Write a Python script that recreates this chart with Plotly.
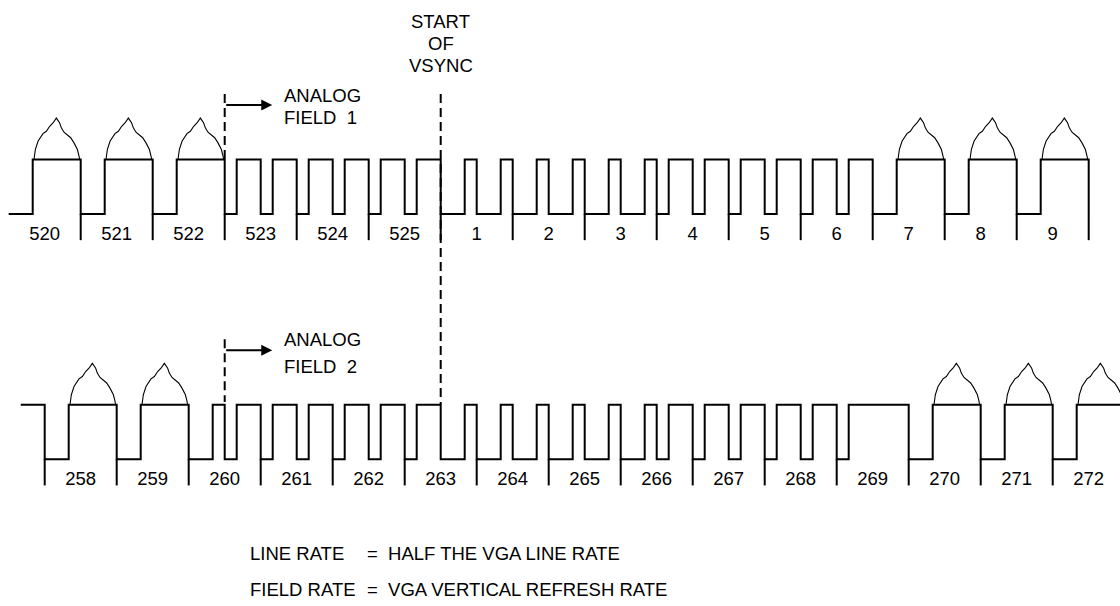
import plotly.graph_objects as go

# ---------------- data ----------------
# Field 1 (top row) line numbers and line types
top_lines = [520, 521, 522, 523, 524, 525, 1, 2, 3, 4, 5, 6, 7, 8, 9]
top_types = ["H", "H", "H", "E", "E", "E", "V", "V", "V", "E", "E", "E", "H", "H", "H"]

# Field 2 (bottom row) line numbers and line types
bottom_lines = [258, 259, 260, 261, 262, 263, 264, 265, 266, 267, 268, 269, 270, 271, 272]
bottom_types = ["H", "H", "HE", "E", "E", "EV", "V", "V", "VE", "E", "E", "EB", "H", "H", "H"]

# sync pulses in each line type: (start, width) as fractions of one line period
pulse_table = {
    "H":  [(0.0, 1 / 3)],                  # horizontal sync + video
    "E":  [(0.0, 1 / 6), (0.5, 1 / 6)],    # equalizing pulses
    "V":  [(0.0, 1 / 3), (0.5, 1 / 3)],    # serrated vertical sync
    "HE": [(0.0, 1 / 3), (0.5, 1 / 6)],
    "EV": [(0.0, 1 / 6), (0.5, 1 / 3)],
    "VE": [(0.0, 1 / 3), (0.5, 1 / 6)],
    "EB": [(0.0, 1 / 6)],
}
video_types = ["H"]

# video bump profile: (fraction of line, signal level; 1 = blank level)
bump_frac = [0.351, 0.37, 0.407, 0.476, 0.523, 0.569, 0.615, 0.662, 0.708, 0.731,
             0.768, 0.815, 0.861, 0.907, 0.954, 0.977, 0.986]
bump_level = [1.0, 1.18, 1.335, 1.475, 1.518, 1.609, 1.67, 1.76, 1.67, 1.58,
              1.50, 1.457, 1.40, 1.305, 1.183, 1.06, 1.0]

footer_left = ["LINE RATE", "FIELD RATE"]
footer_right = ["=  HALF THE VGA LINE RATE", "=  VGA VERTICAL REFRESH RATE"]

# ---------------- layout constants ----------------
ROW2 = -4.5          # vertical offset of the second row
ROW2_X = 0.5         # field 2 is shifted by half a line
TICK = 0.48
LABEL_Y = -0.39
FONT = dict(family="Liberation Sans, Arial, sans-serif", size=18.5, color="#000")
PX_X0, PX_LINE = 8.7, 72.0
PX_Y0, PX_UNIT = 214.0, 54.5
W, H = 1120, 606


def wave(types, x0, y0, lead_high):
    xs, ys = [], []
    if lead_high:
        xs += [x0 - 1 / 3]
        ys += [y0 + 1]
    first = True
    for i, t in enumerate(types):
        base = x0 + i
        for (s, w) in pulse_table[t]:
            if first and not lead_high and s == 0:
                xs += [base]
                ys += [y0]
            else:
                xs += [base + s, base + s]
                ys += [y0 + 1, y0]
            xs += [base + s + w, base + s + w]
            ys += [y0, y0 + 1]
            first = False
    end = x0 + len(types)
    xs += [end, end]
    ys += [y0 + 1, y0]
    return xs, ys


def bumps(types, x0, y0):
    xs, ys = [], []
    for i, t in enumerate(types):
        if t in video_types:
            xs += [x0 + i + f for f in bump_frac] + [None]
            ys += [y0 + v for v in bump_level] + [None]
    return xs, ys


def ticks(positions, y0):
    xs, ys = [], []
    for p in positions:
        xs += [p, p, None]
        ys += [y0, y0 - TICK, None]
    return xs, ys


fig = go.Figure()

tx, ty = wave(top_types, 0.0, 0.0, False)
bx, by = wave(bottom_types, ROW2_X, ROW2, True)
for xs, ys in [(tx, ty), (bx, by)]:
    fig.add_trace(go.Scatter(x=xs, y=ys, mode="lines",
                             line=dict(color="#000", width=2), hoverinfo="skip"))

ux, uy = bumps(top_types, 0.0, 0.0)
vx, vy = bumps(bottom_types, ROW2_X, ROW2)
fig.add_trace(go.Scatter(x=ux + vx, y=uy + vy, mode="lines",
                         line=dict(color="#000", width=1.1), hoverinfo="skip"))

k1x, k1y = ticks([i + 1 for i in range(len(top_lines))], 0.0)
k2x, k2y = ticks([ROW2_X + i for i in range(len(bottom_lines) + 1)], ROW2)
fig.add_trace(go.Scatter(x=k1x + k2x, y=k1y + k2y, mode="lines",
                         line=dict(color="#000", width=2), hoverinfo="skip"))

# line number labels
fig.add_trace(go.Scatter(
    x=[i + 0.5 for i in range(len(top_lines))] + [ROW2_X + i + 0.5 for i in range(len(bottom_lines))],
    y=[LABEL_Y] * len(top_lines) + [ROW2 + LABEL_Y] * len(bottom_lines),
    text=[str(v) for v in top_lines] + [str(v) for v in bottom_lines],
    mode="text", textfont=FONT, hoverinfo="skip"))

# dashed markers: analog field starts and start of vsync
f1_start = top_types.index("E")                      # start of line 523
vs_start = top_types.index("V")                      # start of line 1
f2_start = ROW2_X + bottom_types.index("HE") + 0.5   # mid of line 260
dash = dict(color="#000", width=2, dash="9px,5px")
fig.add_trace(go.Scatter(
    x=[f1_start, f1_start, None, vs_start, vs_start, None, f2_start, f2_start],
    y=[2.2, 1.0, None, 2.2, ROW2 + 1.0, None, ROW2 + 2.2, ROW2 + 1.05],
    mode="lines", line=dash, hoverinfo="skip"))

# arrows
for xs, yr in [(f1_start, 2.0), (f2_start, ROW2 + 2.0)]:
    fig.add_annotation(x=xs + 0.66, y=yr, ax=xs, ay=yr, xref="x", yref="y",
                       axref="x", ayref="y", text="", showarrow=True,
                       arrowhead=2, arrowsize=1.1, arrowwidth=2, arrowcolor="#000")

# texts
for lab, yv in [("ANALOG", 2.18), ("FIELD  1", 1.77),
                ("ANALOG", ROW2 + 2.19), ("FIELD  2", ROW2 + 1.71)]:
    fig.add_annotation(x=f1_start + 0.79, y=yv, xref="x", yref="y", text=lab,
                       showarrow=False, xanchor="left", yanchor="middle", font=FONT)

for lab, yv in [("START", 3.54), ("OF", 3.12), ("VSYNC", 2.73)]:
    fig.add_annotation(x=vs_start, y=yv, xref="x", yref="y", text=lab,
                       showarrow=False, xanchor="center", yanchor="middle", font=FONT)

for i, (l, r) in enumerate(zip(footer_left, footer_right)):
    yy = 1 - (553 + 36 * i) / H
    fig.add_annotation(x=248 / W, y=yy, xref="paper", yref="paper", text=l,
                       showarrow=False, xanchor="left", yanchor="middle", font=FONT)
    fig.add_annotation(x=365 / W, y=yy, xref="paper", yref="paper", text=r,
                       showarrow=False, xanchor="left", yanchor="middle", font=FONT)

fig.update_layout(
    width=W, height=H, margin=dict(l=0, r=0, t=0, b=0),
    paper_bgcolor="white", plot_bgcolor="white", showlegend=False,
    xaxis=dict(range=[-PX_X0 / PX_LINE, (W - PX_X0) / PX_LINE], visible=False, fixedrange=True),
    yaxis=dict(range=[(PX_Y0 - H) / PX_UNIT, PX_Y0 / PX_UNIT], visible=False, fixedrange=True),
)

fig.write_html("out.html", config={"displayModeBar": False},
               post_script="document.body.style.margin='0';document.body.style.overflow='hidden';")
